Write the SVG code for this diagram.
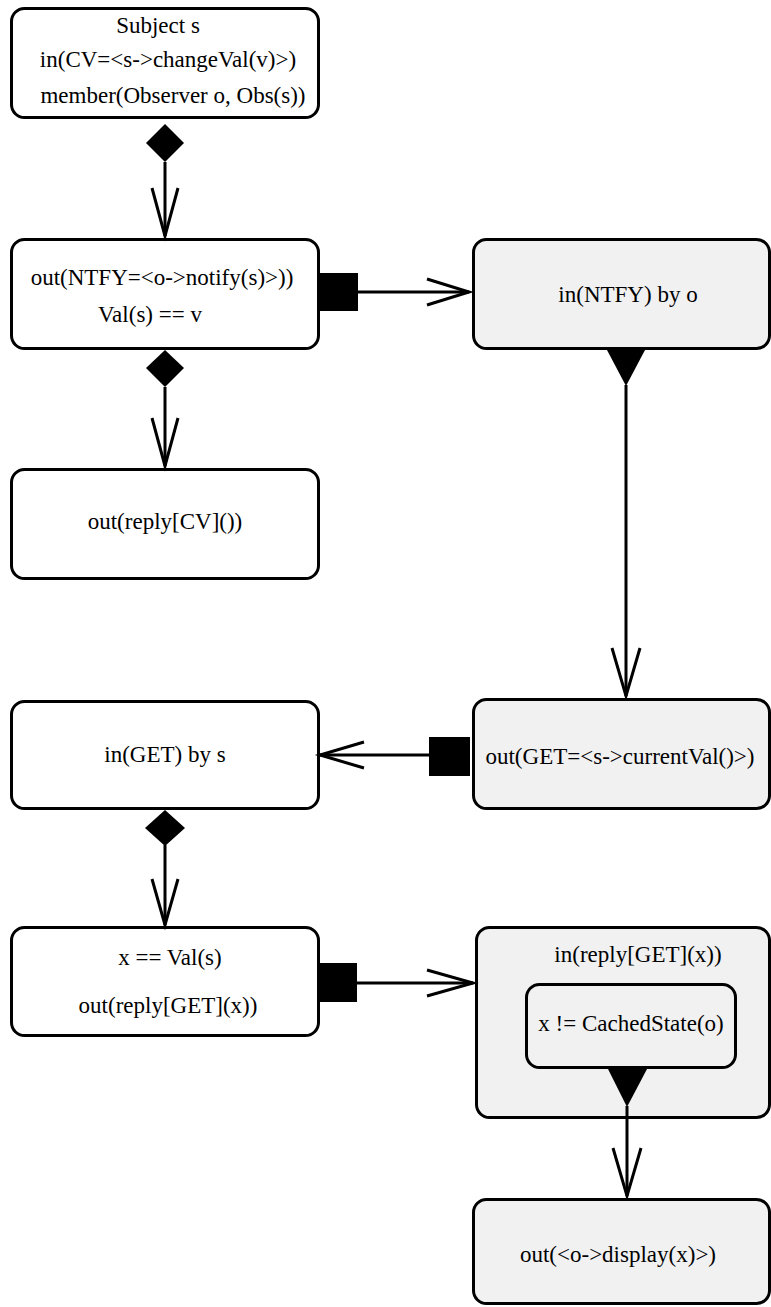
<svg xmlns="http://www.w3.org/2000/svg" width="771" height="1307" viewBox="0 0 771 1307">
  <style>
    .box { fill: #ffffff; stroke: #000000; stroke-width: 3; }
    .shaded { fill: #f1f1f1; stroke: #000000; stroke-width: 3; }
    .lbl { font-size: 23px; fill: #000000; text-anchor: middle; }
    .edge { fill: none; stroke: #000000; stroke-width: 3; }
    .open { fill: none; stroke: #000000; stroke-width: 3; stroke-linejoin: miter; }
    .solid { fill: #000000; stroke: none; }
  </style>

  <rect width="771" height="1307" fill="#ffffff"/>

  <g font-family="'Liberation Serif', 'DejaVu Serif', 'Times New Roman', Times, serif">
  <!-- subject side: change request -->
  <g id="subject-s">
    <rect class="box" x="11.5" y="8.5" width="307" height="109" rx="13"/>
    <text class="lbl" x="158" y="33">Subject s</text>
    <text class="lbl" x="168" y="67">in(CV=&lt;s-&gt;changeVal(v)&gt;)</text>
    <text class="lbl" x="173" y="103">member(Observer o, Obs(s))</text>
  </g>

  <g id="notify">
    <rect class="box" x="11.5" y="239.5" width="307" height="109" rx="13"/>
    <text class="lbl" x="162" y="285">out(NTFY=&lt;o-&gt;notify(s)&gt;))</text>
    <text class="lbl" x="150" y="322">Val(s) == v</text>
  </g>

  <g id="in-ntfy">
    <rect class="shaded" x="473.5" y="239.5" width="296" height="109" rx="13"/>
    <text class="lbl" x="628" y="302">in(NTFY) by o</text>
  </g>

  <g id="reply-cv">
    <rect class="box" x="11.5" y="469.5" width="307" height="109" rx="13"/>
    <text class="lbl" x="165" y="529">out(reply[CV]())</text>
  </g>

  <g id="in-get">
    <rect class="box" x="11.5" y="701.5" width="307" height="107" rx="13"/>
    <text class="lbl" x="165" y="762">in(GET) by s</text>
  </g>

  <g id="out-get">
    <rect class="shaded" x="473.5" y="699.5" width="296" height="109" rx="13"/>
    <text class="lbl" x="620" y="764">out(GET=&lt;s-&gt;currentVal()&gt;)</text>
  </g>

  <g id="reply-get">
    <rect class="box" x="11.5" y="927.5" width="307" height="108" rx="13"/>
    <text class="lbl" x="170" y="965">x == Val(s)</text>
    <text class="lbl" x="168" y="1013">out(reply[GET](x))</text>
  </g>

  <g id="in-reply-get">
    <rect class="shaded" x="476.5" y="927.5" width="293" height="190" rx="13"/>
    <text class="lbl" x="638" y="962">in(reply[GET](x))</text>
  </g>

  <g id="cached-check">
    <rect class="shaded" x="526.5" y="984.5" width="209" height="83" rx="13"/>
    <text class="lbl" x="631" y="1031">x != CachedState(o)</text>
  </g>

  <g id="display">
    <rect class="shaded" x="473.5" y="1199.5" width="296" height="104" rx="13"/>
    <text class="lbl" x="618" y="1262">out(&lt;o-&gt;display(x)&gt;)</text>
  </g>
  </g>

  <!-- connectors: source glyph, shaft, open arrowhead -->
  <g id="connectors">
    <!-- subject -> notify -->
    <polygon class="solid" points="165,124 184,143 165,162 146,143"/>
    <line class="edge" x1="165" y1="162" x2="165" y2="236"/>
    <polyline class="open" points="152,188 165,236 178,188"/>

    <!-- notify -> reply CV -->
    <polygon class="solid" points="165,350 184,368 165,387 146,368"/>
    <line class="edge" x1="165" y1="387" x2="165" y2="466"/>
    <polyline class="open" points="152,418 165,466 178,418"/>

    <!-- notify -> in NTFY -->
    <rect class="solid" x="318" y="273" width="40" height="38"/>
    <line class="edge" x1="358" y1="292" x2="469" y2="292"/>
    <polyline class="open" points="427,279 469,292 427,305"/>

    <!-- in NTFY -> out GET -->
    <polygon class="solid" points="607,350 645,350 626,386"/>
    <line class="edge" x1="626" y1="385" x2="626" y2="696"/>
    <polyline class="open" points="612,648 626,696 640,648"/>

    <!-- out GET -> in GET -->
    <rect class="solid" x="429" y="737" width="41" height="39"/>
    <line class="edge" x1="429" y1="755" x2="320" y2="755"/>
    <polyline class="open" points="364,742 320,755 364,768"/>

    <!-- in GET -> reply GET -->
    <polygon class="solid" points="165,810 185,828 165,846 145,828"/>
    <line class="edge" x1="165" y1="845" x2="165" y2="925"/>
    <polyline class="open" points="152,879 165,925 178,879"/>

    <!-- reply GET -> in reply GET -->
    <rect class="solid" x="318" y="963" width="39" height="39"/>
    <line class="edge" x1="357" y1="983" x2="473" y2="983"/>
    <polyline class="open" points="427,970 473,983 427,996"/>

    <!-- cached check -> display -->
    <polygon class="solid" points="608,1069 647,1069 627,1107"/>
    <line class="edge" x1="627" y1="1106" x2="627" y2="1196"/>
    <polyline class="open" points="613,1148 627,1196 641,1148"/>
  </g>
</svg>
